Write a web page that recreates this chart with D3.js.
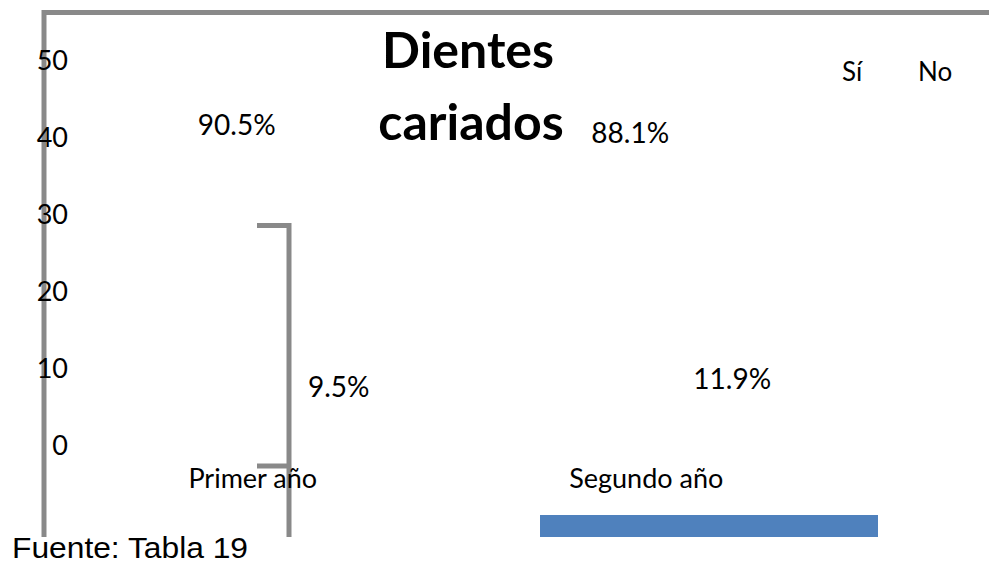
<!DOCTYPE html>
<html>
<head>
<meta charset="utf-8">
<script src="https://cdn.jsdelivr.net/npm/d3@7"></script>
<style>
  body { margin: 0; background: #fff; }
  text { font-family: Lato, "Open Sans", sans-serif; fill: #000; }
</style>
</head>
<body>
<script>
// data
const categories = ["Primer año", "Segundo año"];
const series = ["Sí", "No"];
const siValues = [90.5, 88.1];
const noValues = [9.5, 11.9];
const yTicks = [0, 10, 20, 30, 40, 50];
const colors = ["#4F81BD", "#C0504D"];
const source = "Fuente: Tabla 19";

const width = 989, height = 567;
const gray = "#898989";

const svg = d3.select("body").append("svg")
    .attr("width", width)
    .attr("height", height);

svg.append("rect").attr("width", width).attr("height", height).attr("fill", "#fff");

// scales
const y = d3.scaleLinear().domain([0, 50]).range([445, 60]);
const x = d3.scaleBand().domain(categories).range([56, 843]);
const labelY = d3.scaleLinear().domain([10, 90]).range([395, 137]);
const seriesOffset = d3.scaleOrdinal().domain(series).range([-16, 86]);

// clipped plot area (the picture is cut at the bottom)
svg.append("clipPath").attr("id", "plotclip")
  .append("rect").attr("x", 0).attr("y", 0).attr("width", width).attr("height", 537);

const plot = svg.append("g").attr("clip-path", "url(#plotclip)");

// frame lines
plot.append("path")
    .attr("d", "M44,540V12.5H989")
    .attr("fill", "none")
    .attr("stroke", gray)
    .attr("stroke-width", 5);

plot.append("path")
    .attr("d", "M257,225.5H289V540M257,466H289")
    .attr("fill", "none")
    .attr("stroke", gray)
    .attr("stroke-width", 5);

// swatch of the first series, displaced to the bottom
plot.append("rect")
    .attr("x", 540).attr("y", 515)
    .attr("width", 338).attr("height", 30)
    .attr("fill", colors[0]);

// y axis labels
const yAxis = svg.append("g")
    .attr("transform", "translate(68,0)")
    .call(d3.axisLeft(y).tickValues(yTicks).tickSize(0).tickPadding(0));
yAxis.select(".domain").remove();
yAxis.selectAll("text")
    .style("font-size", "27px")
    .attr("fill", "#000")
    .attr("dy", "0.36em");

// category labels
svg.append("g").selectAll("text")
  .data(categories)
  .join("text")
    .attr("x", d => x(d) + x.bandwidth() / 2)
    .attr("y", 488)
    .attr("text-anchor", "middle")
    .attr("font-size", 27)
    .text(d => d);

// value labels
const labels = [];
categories.forEach((c, i) => {
  labels.push({cat: c, s: "Sí", v: siValues[i]});
  labels.push({cat: c, s: "No", v: noValues[i]});
});

svg.append("g").selectAll("text")
  .data(labels)
  .join("text")
    .attr("x", d => x(d.cat) + x.bandwidth() / 2 + seriesOffset(d.s))
    .attr("y", d => labelY(d.v))
    .attr("text-anchor", "middle")
    .attr("font-size", 28)
    .text(d => d.v.toFixed(1) + "%");

// title
const title = svg.append("text")
    .attr("x", 470)
    .attr("text-anchor", "middle")
    .attr("font-size", 50)
    .attr("font-weight", "bold");
title.append("tspan").attr("x", 468).attr("y", 68).text("Dientes");
title.append("tspan").attr("x", 471).attr("y", 140).text("cariados");

// legend (no swatches)
svg.append("g").selectAll("text")
  .data(series)
  .join("text")
    .attr("x", (d, i) => 842 + i * 76)
    .attr("y", 81)
    .attr("font-size", 26)
    .text(d => d);

// source
svg.append("text")
    .attr("x", 12)
    .attr("y", 558)
    .attr("textLength", 236)
    .attr("lengthAdjust", "spacingAndGlyphs")
    .style("font-family", "'Liberation Sans', Arial, sans-serif")
    .style("font-size", "30px")
    .text(source);
</script>
</body>
</html>
